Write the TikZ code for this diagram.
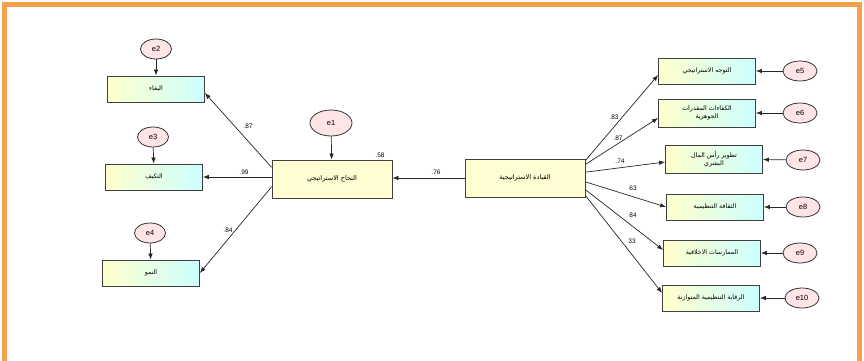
\documentclass[tikz,border=0pt]{standalone}
\usepackage{fontspec}
\setmainfont{Liberation Sans}
\newfontfamily\arabicfont[Script=Arabic]{DejaVu Sans}
\TeXXeTstate=1
\usetikzlibrary{arrows.meta, positioning, calc, shapes.geometric}
\definecolor{frameorange}{HTML}{F5A04A}
\newcommand{\artxt}[1]{{\arabicfont\beginR #1\endR}}

\begin{document}
\begin{tikzpicture}[x=1pt, y=-1pt]
    % Define styles
    \tikzset{
        obsbox/.style={draw=black!75, line width=0.8pt, left color=yellow!20, right color=cyan!20,
            minimum width=97pt, minimum height=26pt, inner sep=1pt, align=center,
            font=\fontsize{6.3}{7.8}\selectfont},
        latbox/.style={draw=black!75, line width=0.8pt, fill=yellow!18,
            minimum width=120pt, minimum height=38pt, font=\fontsize{6.5}{8}\selectfont},
        errnode/.style={ellipse, draw=black!80, line width=0.8pt, fill=red!10,
            minimum width=31pt, minimum height=20pt, inner sep=0pt, font=\fontsize{7.5}{8}\selectfont},
        link/.style={-{Latex[length=6pt,width=4.5pt]}, line width=0.7pt, black!85},
        coef/.style={inner sep=1pt, font=\fontsize{6.5}{7}\selectfont}
    }
    \useasboundingbox (0,0) rectangle (864,360);

    % Frame
    \draw[line width=5pt, frameorange] (4.5,365) -- (4.5,4.5) -- (859.5,4.5) -- (859.5,365);

    % Latent variables
    \node[latbox] (succ) at (332,179) {\artxt{النجاح الاستراتيجي}};
    \node[latbox] (lead) at (525,178) {\artxt{القيادة الاستراتيجية}};
    \node[errnode, minimum width=42pt, minimum height=26pt] (e1) at (331,123) {e1};

    % Indicators of success
    \node[obsbox] (baqa) at (156,89) {\artxt{البقاء}};
    \node[obsbox] (takayuf) at (154,177) {\artxt{التكيف}};
    \node[obsbox] (numuw) at (151,273) {\artxt{النمو}};
    \node[errnode] (e2) at (156,49) {e2};
    \node[errnode] (e3) at (153,137) {e3};
    \node[errnode] (e4) at (150,233) {e4};

    % Indicators of leadership
    \node[obsbox] (tawajuh) at (707,71) {\artxt{التوجه الاستراتيجي}};
    \node[obsbox, minimum height=28pt] (kafaat) at (707,113) {\artxt{الكفاءات المقدرات}\\\artxt{الجوهرية}};
    \node[obsbox, minimum height=28pt] (rasmal) at (714,159) {\artxt{تطوير رأس المال}\\\artxt{البشري}};
    \node[obsbox] (thaqafa) at (715,207) {\artxt{الثقافة التنظيمية}};
    \node[obsbox] (mumarasat) at (712,253) {\artxt{الممارسات الاخلاقية}};
    \node[obsbox] (riqaba) at (711,298) {\artxt{الرقابة التنظيمية المتوازنة}};
    \node[errnode, minimum width=34pt] (e5) at (800,71) {e5};
    \node[errnode, minimum width=34pt] (e6) at (800,113) {e6};
    \node[errnode, minimum width=34pt] (e7) at (803,160) {e7};
    \node[errnode, minimum width=34pt] (e8) at (803,207) {e8};
    \node[errnode, minimum width=34pt] (e9) at (800,253) {e9};
    \node[errnode, minimum width=34pt] (e10) at (802,298) {e10};

    % Error paths
    \draw[link] (e1) -- (succ);
    \draw[link] (e2) -- (baqa);
    \draw[link] (e3) -- (takayuf);
    \draw[link] (e4) -- (numuw);
    \draw[link] (e5) -- (tawajuh);
    \draw[link] (e6) -- (kafaat);
    \draw[link] (e7) -- (rasmal);
    \draw[link] (e8) -- (thaqafa);
    \draw[link] (e9) -- (mumarasat);
    \draw[link] (e10) -- (riqaba);

    % Structural path
    \draw[link] (lead.west) -- (succ.east |- lead.west);

    % Loadings of success
    \draw[link] ($(succ.north west)!0.2!(succ.south west)$) -- ([yshift=-4pt]baqa.east);
    \draw[link] (succ.west |- takayuf.east) -- (takayuf.east);
    \draw[link] ($(succ.north west)!0.7!(succ.south west)$) -- (numuw.east);

    % Loadings of leadership
    \draw[link] ($(lead.north east)!0.05!(lead.south east)$) -- ([yshift=-4pt]tawajuh.west);
    \draw[link] ($(lead.north east)!0.15!(lead.south east)$) -- ([yshift=-5pt]kafaat.west);
    \draw[link] ($(lead.north east)!0.35!(lead.south east)$) -- ([yshift=-3pt]rasmal.west);
    \draw[link] ($(lead.north east)!0.6!(lead.south east)$) -- (thaqafa.west);
    \draw[link] ($(lead.north east)!0.8!(lead.south east)$) -- ([yshift=3pt]mumarasat.west);
    \draw[link] ($(lead.north east)!0.95!(lead.south east)$) -- ([yshift=5pt]riqaba.west);

    % Coefficients
    \node[coef] (c1) at (248,126) {.87};
    \node[coef] (c2) at (244,172) {.99};
    \node[coef] (c3) at (228,230) {.84};
    \node[coef] (r2) at (380,155) {.58};
    \node[coef] (c4) at (436,172) {.76};
    \node[coef] (c5) at (614,117) {.83};
    \node[coef] (c6) at (618,138) {.87};
    \node[coef] (c7) at (620,161) {.74};
    \node[coef] (c8) at (633,188) {63};
    \node[coef] (c9) at (633,215) {84};
    \node[coef] (c10) at (632,241) {33};
\end{tikzpicture}
\end{document}
